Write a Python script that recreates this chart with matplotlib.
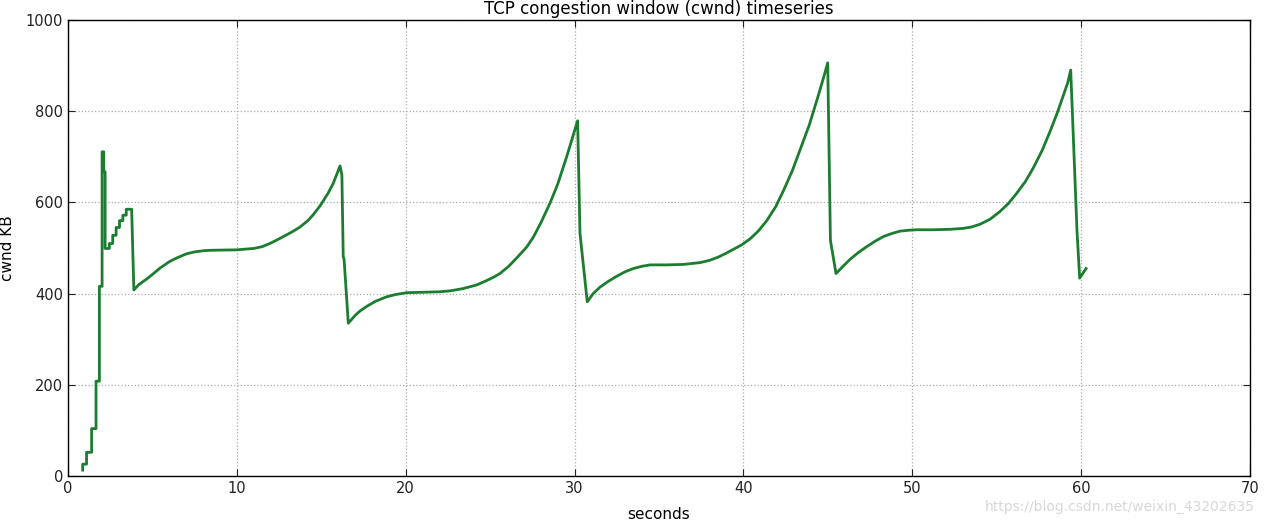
# cwnd_timeseries.py
# TCP cubic congestion window plot, values read off the capture
import matplotlib
matplotlib.use("Agg")
import matplotlib.pyplot as plt

# seconds / cwnd KB
t_sec = [0.87, 0.87, 1.10, 1.10, 1.40, 1.40, 1.66, 1.66, 1.86, 1.86,
         2.02, 2.02, 2.12, 2.12, 2.20, 2.20, 2.45, 2.45, 2.65, 2.65,
         2.85, 2.85, 3.05, 3.05, 3.25, 3.25, 3.45, 3.45, 3.77, 3.90,
         4.20, 4.66, 5.00, 5.45, 6.00, 6.43, 7.00, 7.42, 8.00, 8.41,
         9.99, 11.0, 11.5, 11.96, 12.5, 12.9, 13.3, 13.74, 14.2, 14.5,
         14.92, 15.4, 15.71, 16.11, 16.22, 16.30, 16.35, 16.60, 17.0, 17.3,
         17.69, 18.2, 18.87, 19.4, 20.06, 21.0, 22.0, 22.62, 23.4, 24.2,
         24.7, 25.2, 25.58, 26.1, 26.57, 27.16, 27.56, 28.0, 28.54, 29.0,
         29.53, 29.9, 30.18, 30.32, 30.75, 31.1, 31.5, 32.0, 32.49, 33.0,
         33.48, 34.0, 34.47, 35.5, 36.44, 37.43, 38.0, 38.5, 39.0, 39.4,
         39.9, 40.39, 40.9, 41.38, 41.9, 42.36, 42.9, 43.35, 43.9, 44.34,
         44.7, 44.99, 45.15, 45.48, 45.9, 46.31, 46.8, 47.3, 47.8, 48.28,
         48.8, 49.27, 49.8, 50.26, 51.2, 52.23, 53.0, 53.5, 54.0, 54.6,
         55.19, 55.7, 56.18, 56.7, 57.17, 57.7, 58.15, 58.6, 58.94, 59.2,
         59.38, 59.75, 59.91, 60.29]
cwnd_kb = [13, 26, 26, 52, 52, 104, 104, 208, 208, 416,
           416, 711, 711, 667, 667, 499, 499, 510, 510, 528,
           528, 545, 545, 560, 560, 572, 572, 585, 585, 408,
           420, 432, 442, 456, 470, 478, 487, 491, 494, 495,
           496, 499, 503, 510, 520, 528, 536, 546, 560, 572,
           592, 620, 642, 680, 660, 481, 475, 335, 352, 362,
           372, 383, 393, 398, 402, 403, 404, 406, 411, 419,
           427, 436, 444, 460, 478, 502, 524, 555, 598, 640,
           700, 745, 779, 532, 382, 400, 414, 427, 438, 448,
           455, 460, 463, 463, 464, 468, 473, 480, 489, 497,
           507, 520, 538, 560, 590, 625, 670, 715, 770, 823,
           868, 906, 517, 444, 460, 475, 490, 503, 515, 525,
           532, 537, 539, 540, 540, 541, 543, 546, 552, 563,
           580, 598, 620, 646, 676, 715, 755, 798, 834, 862,
           890, 539, 434, 455]

x_ticks = [0, 10, 20, 30, 40, 50, 60, 70]
y_ticks = [0, 200, 400, 600, 800, 1000]

LINE_COLOR = "#1b7d2f"

plt.rcParams["font.family"] = "DejaVu Sans"
plt.rcParams["xtick.direction"] = "in"
plt.rcParams["ytick.direction"] = "in"
plt.rcParams["xtick.top"] = True
plt.rcParams["ytick.right"] = True

fig = plt.figure(figsize=(12.66, 5.25), dpi=100)
ax = fig.add_axes([0.0537, 0.0933, 0.9337, 0.8686])

ax.plot(t_sec, cwnd_kb, color=LINE_COLOR, linewidth=2.0)

ax.set_xlim(0, 70)
ax.set_ylim(0, 1000)
ax.set_xticks(x_ticks)
ax.set_yticks(y_ticks)
ax.tick_params(labelsize=10.5, length=5, width=0.8, colors="#222222")
ax.grid(True, linestyle=":", color="#aaaaaa", linewidth=0.9)
for sp in ax.spines.values():
    sp.set_linewidth(1.0)

ax.set_title("TCP congestion window (cwnd) timeseries", fontsize=12, pad=4)
ax.set_xlabel("seconds", fontsize=11, labelpad=8)
ax.set_ylabel("cwnd KB", fontsize=11)
ax.yaxis.set_label_coords(-0.045, 0.5)

fig.text(0.991, 0.035, "https://blog.csdn.net/weixin_43202635",
         ha="right", va="center", fontsize=10, color="#d8d8d8")

fig.savefig("out.png", dpi=100)
